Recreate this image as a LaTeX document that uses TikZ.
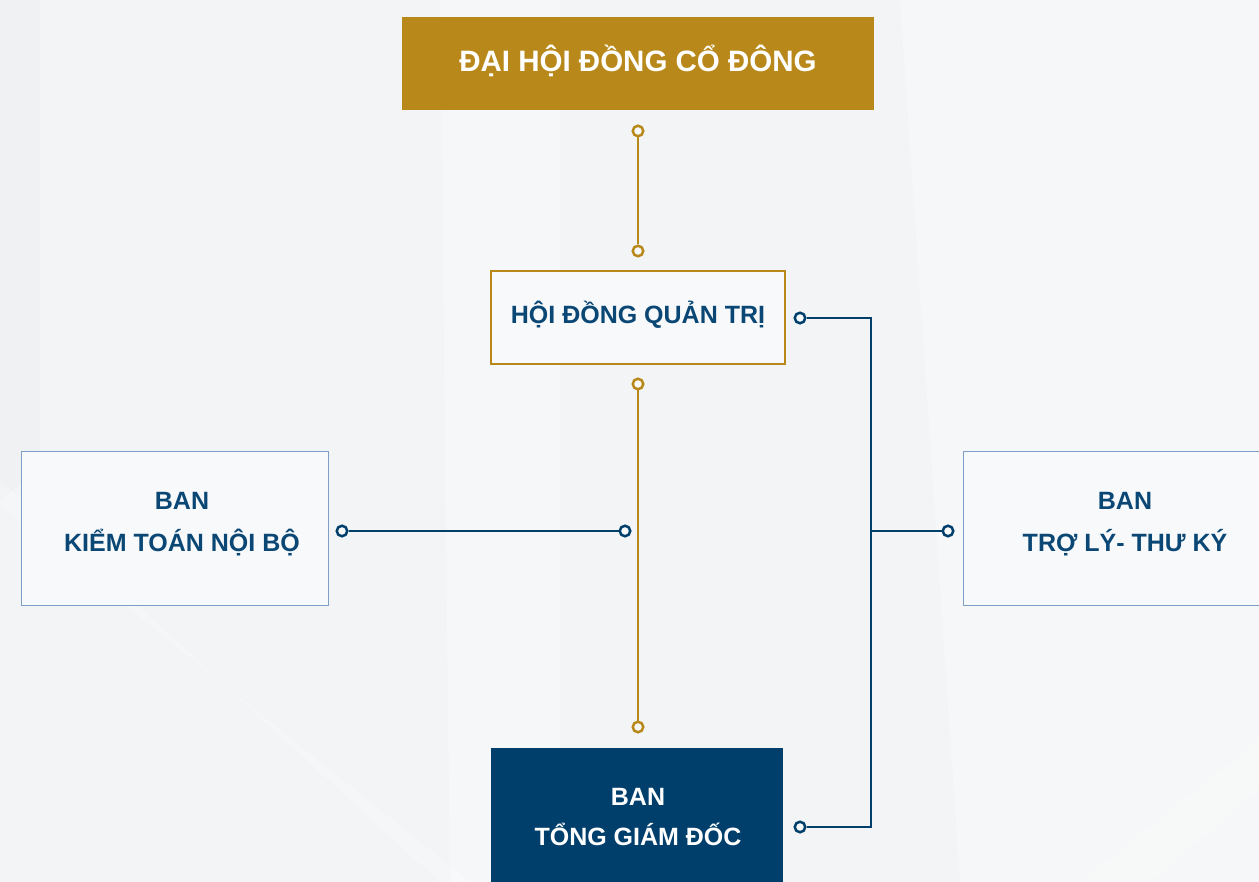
\documentclass[tikz,border=0pt]{standalone}
\usepackage{fontspec}
\setmainfont{Liberation Sans}
\definecolor{gold}{HTML}{B8891A}
\definecolor{navy}{HTML}{003F6B}
\definecolor{ink}{HTML}{0B4774}
\definecolor{paper}{HTML}{F2F4F6}
\definecolor{boxfill}{HTML}{F7F9FB}
\definecolor{edge}{HTML}{7E9EC6}
\tikzset{
  dot/.style={circle, draw, line width=2.5pt, fill=boxfill, inner sep=0pt, minimum size=10.5pt},
  golddot/.style={dot, draw=gold},
  bluedot/.style={dot, draw=navy},
  goldlink/.style={draw=gold, line width=2.6pt},
  bluelink/.style={draw=navy, line width=2.6pt},
  unitbox/.style={rectangle, inner sep=0pt},
  lbl/.style={anchor=base, inner sep=0pt, font=\bfseries\fontsize{25}{29}\selectfont, text=ink},
  biglbl/.style={anchor=base, inner sep=0pt, font=\bfseries\fontsize{29.5}{34}\selectfont, text=white},
}
\begin{document}
\begin{tikzpicture}[x=1pt,y=-1pt]
% page and soft background
\fill[paper] (0,0) rectangle (1259,882);
\useasboundingbox (0,0) rectangle (1259,882);
\fill[white, opacity=0.35] (440,0) -- (560,0) -- (560,882) -- (450,882) -- cycle;
\fill[white, opacity=0.3] (900,0) -- (1259,0) -- (1259,882) -- (960,882) -- cycle;
\fill[white, opacity=0.25] (0,480) -- (0,505) -- (470,882) -- (440,882) -- cycle;
\fill[white, opacity=0.25] (1259,740) -- (1259,790) -- (1150,882) -- (1080,882) -- cycle;
\fill[black, opacity=0.012] (0,0) -- (40,0) -- (40,470) -- (0,500) -- cycle;

% boxes
\node[unitbox, fill=gold, minimum width=472pt, minimum height=93pt] (dhcd) at (638,63.5) {};
\node[unitbox, draw=gold, line width=2pt, fill=boxfill, minimum width=294pt, minimum height=93pt] (hdqt) at (638,317.5) {};
\node[unitbox, draw=edge, line width=1pt, fill=boxfill, minimum width=307pt, minimum height=153pt] (ktnb) at (174.5,528.5) {};
\node[unitbox, draw=edge, line width=1pt, fill=boxfill, minimum width=330pt, minimum height=153pt] (tltk) at (1128,528.5) {};
\node[unitbox, fill=navy, minimum width=292pt, minimum height=140pt] (tgd) at (637,818) {};

% labels
\node[biglbl] (dhcdtext) at (638,72) {ĐẠI HỘI ĐỒNG CỔ ĐÔNG};
\node[lbl] (hdqttext) at (638,324) {HỘI ĐỒNG QUẢN TRỊ};
\node[lbl] (ktnb1) at (182,510) {BAN};
\node[lbl] (ktnb2) at (182,551) {KIỂM TOÁN NỘI BỘ};
\node[lbl] (tltk1) at (1125,510) {BAN};
\node[lbl] (tltk2) at (1125,551) {TRỢ LÝ- THƯ KÝ};
\node[lbl, text=white] (tgd1) at (638,805) {BAN};
\node[lbl, text=white] (tgd2) at (638,845) {TỔNG GIÁM ĐỐC};

% connector ends
\node[golddot] (g1) at (638,131) {};
\node[golddot] (g2) at (638,251) {};
\node[golddot] (g3) at (638,384) {};
\node[golddot] (g4) at (638,727) {};
\node[bluedot] (b1) at (342,531) {};
\node[bluedot] (b2) at (625,531) {};
\node[bluedot] (b3) at (800,318) {};
\node[bluedot] (b4) at (800,827) {};
\node[bluedot] (b5) at (948,531) {};
\coordinate (bustop) at (871,318);
\coordinate (busmid) at (871,531);
\coordinate (busbot) at (871,827);

% connectors
\draw[goldlink] (g1) -- (g2);
\draw[goldlink] (g3) -- (g4);
\draw[bluelink] (b1) -- (b2);
\draw[bluelink, line join=miter] (b3) -- (bustop) -- (busbot) -- (b4);
\draw[bluelink] (busmid) -- (b5);
\end{tikzpicture}
\end{document}
